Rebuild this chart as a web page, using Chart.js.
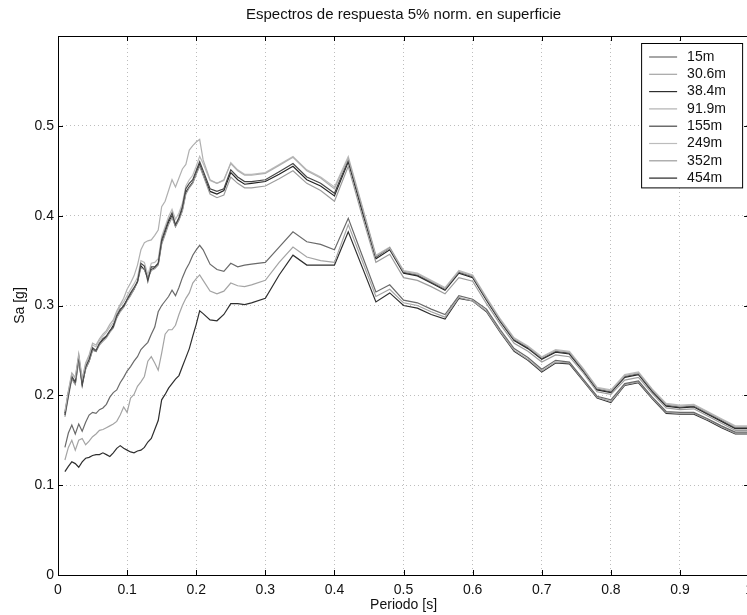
<!DOCTYPE html>
<html lang="es">
<head>
<meta charset="utf-8">
<title>Espectros de respuesta</title>
<script src="https://cdn.jsdelivr.net/npm/chart.js@4.4.1/dist/chart.umd.min.js"></script>
<style>
  html, body { margin: 0; padding: 0; background: #fff; overflow: hidden; }
  #wrap { position: relative; width: 760px; height: 615px; }
</style>
</head>
<body>
<div id="wrap"><canvas id="espectros"></canvas></div>
<script>
// Periodos [s]
const periods = [
  0.010,0.015,0.020,0.025,0.030,0.035,0.040,0.045,0.050,0.055,
  0.060,0.065,0.070,0.075,0.080,0.085,0.090,0.095,0.100,0.105,
  0.110,0.115,0.120,0.125,0.130,0.135,0.140,0.145,0.150,0.155,
  0.160,0.165,0.170,0.175,0.180,0.185,0.190,0.195,0.200,0.205,
  0.210,0.220,0.230,0.240,0.250,0.260,0.270,0.280,0.300,0.320,
  0.340,0.360,0.380,0.400,0.420,0.440,0.460,0.480,0.500,0.520,
  0.540,0.560,0.580,0.600,0.620,0.640,0.660,0.680,0.700,0.720,
  0.740,0.760,0.780,0.800,0.820,0.840,0.860,0.880,0.900,0.920,
  0.940,0.960,0.980,1.000
];

// Sa [g] para cada profundidad
const sa15 = [
  0.142,0.158,0.167,0.157,0.168,0.160,0.170,0.178,0.181,0.180,
  0.184,0.186,0.190,0.198,0.203,0.206,0.214,0.220,0.227,0.232,
  0.238,0.243,0.251,0.255,0.259,0.268,0.276,0.293,0.300,0.305,
  0.310,0.317,0.311,0.320,0.331,0.340,0.347,0.356,0.362,0.367,
  0.362,0.346,0.340,0.338,0.347,0.343,0.345,0.346,0.348,0.365,
  0.382,0.371,0.368,0.362,0.397,0.356,0.315,0.323,0.306,0.303,
  0.296,0.290,0.311,0.307,0.296,0.273,0.252,0.242,0.229,0.239,
  0.237,0.218,0.199,0.195,0.213,0.216,0.198,0.182,0.181,0.181,
  0.174,0.166,0.159,0.159
];
const sa30_6 = [
  0.128,0.142,0.150,0.139,0.150,0.152,0.145,0.149,0.154,0.157,
  0.161,0.162,0.164,0.166,0.168,0.171,0.178,0.187,0.181,0.197,
  0.201,0.210,0.215,0.221,0.238,0.243,0.236,0.228,0.247,0.268,
  0.273,0.273,0.278,0.290,0.300,0.308,0.314,0.325,0.330,0.334,
  0.328,0.316,0.313,0.316,0.325,0.322,0.321,0.323,0.328,0.348,
  0.365,0.354,0.350,0.348,0.390,0.350,0.310,0.318,0.303,0.300,
  0.293,0.287,0.309,0.305,0.294,0.271,0.250,0.240,0.227,0.237,
  0.236,0.217,0.198,0.193,0.212,0.215,0.197,0.181,0.180,0.180,
  0.173,0.165,0.158,0.158
];
const sa38_4 = [
  0.115,0.121,0.126,0.124,0.120,0.126,0.130,0.131,0.133,0.134,
  0.134,0.136,0.134,0.132,0.136,0.141,0.144,0.141,0.139,0.137,
  0.136,0.138,0.139,0.142,0.148,0.152,0.162,0.172,0.195,0.201,
  0.208,0.213,0.218,0.222,0.232,0.242,0.252,0.266,0.279,0.294,
  0.291,0.284,0.283,0.290,0.302,0.302,0.301,0.303,0.308,0.334,
  0.356,0.345,0.345,0.345,0.382,0.343,0.304,0.314,0.300,0.297,
  0.290,0.285,0.308,0.305,0.293,0.270,0.249,0.239,0.226,0.236,
  0.235,0.216,0.197,0.192,0.211,0.214,0.196,0.180,0.179,0.179,
  0.172,0.164,0.157,0.157
];
const sa91_9 = [
  0.182,0.205,0.225,0.220,0.246,0.219,0.236,0.245,0.258,0.256,
  0.263,0.268,0.272,0.279,0.284,0.294,0.301,0.308,0.318,0.325,
  0.333,0.345,0.362,0.370,0.372,0.373,0.378,0.384,0.410,0.416,
  0.428,0.440,0.432,0.442,0.452,0.457,0.473,0.478,0.482,0.485,
  0.462,0.440,0.436,0.440,0.458,0.450,0.445,0.445,0.447,0.456,
  0.465,0.450,0.442,0.430,0.464,0.410,0.355,0.364,0.338,0.335,
  0.327,0.319,0.338,0.333,0.308,0.284,0.263,0.254,0.242,0.250,
  0.248,0.229,0.208,0.205,0.222,0.225,0.206,0.190,0.188,0.189,
  0.181,0.173,0.165,0.165
];
const sa155 = [
  0.178,0.200,0.221,0.215,0.243,0.213,0.232,0.240,0.253,0.250,
  0.258,0.263,0.266,0.272,0.276,0.289,0.296,0.299,0.307,0.314,
  0.320,0.326,0.347,0.344,0.327,0.343,0.343,0.347,0.373,0.384,
  0.395,0.403,0.390,0.398,0.410,0.430,0.436,0.440,0.450,0.460,
  0.450,0.430,0.427,0.430,0.451,0.443,0.438,0.438,0.440,0.449,
  0.458,0.443,0.436,0.425,0.462,0.408,0.354,0.364,0.337,0.334,
  0.326,0.318,0.337,0.332,0.307,0.283,0.262,0.253,0.241,0.249,
  0.247,0.228,0.207,0.204,0.221,0.224,0.205,0.189,0.187,0.188,
  0.180,0.172,0.164,0.164
];
const sa249 = [
  0.181,0.204,0.224,0.219,0.245,0.217,0.235,0.243,0.256,0.254,
  0.261,0.266,0.270,0.276,0.281,0.292,0.299,0.304,0.311,0.318,
  0.324,0.331,0.350,0.348,0.334,0.347,0.348,0.352,0.377,0.388,
  0.399,0.407,0.396,0.403,0.414,0.433,0.440,0.445,0.455,0.466,
  0.458,0.439,0.436,0.439,0.459,0.451,0.446,0.446,0.448,0.457,
  0.466,0.451,0.443,0.432,0.466,0.411,0.356,0.365,0.339,0.336,
  0.328,0.320,0.339,0.334,0.309,0.285,0.264,0.255,0.243,0.251,
  0.249,0.230,0.209,0.206,0.223,0.226,0.207,0.191,0.189,0.190,
  0.182,0.174,0.166,0.166
];
const sa352 = [
  0.176,0.198,0.218,0.212,0.238,0.214,0.229,0.238,0.250,0.249,
  0.256,0.260,0.264,0.270,0.275,0.286,0.293,0.298,0.305,0.311,
  0.318,0.326,0.342,0.340,0.330,0.339,0.341,0.345,0.368,0.379,
  0.390,0.398,0.388,0.395,0.405,0.424,0.431,0.436,0.446,0.455,
  0.445,0.424,0.420,0.423,0.443,0.436,0.431,0.431,0.433,0.441,
  0.450,0.436,0.428,0.416,0.455,0.400,0.348,0.357,0.331,0.328,
  0.321,0.313,0.331,0.327,0.302,0.279,0.258,0.249,0.237,0.245,
  0.243,0.225,0.204,0.201,0.217,0.220,0.202,0.186,0.184,0.185,
  0.177,0.169,0.161,0.161
];
const sa454 = [
  0.180,0.203,0.219,0.213,0.240,0.211,0.230,0.238,0.251,0.249,
  0.257,0.262,0.265,0.271,0.278,0.287,0.294,0.300,0.306,0.312,
  0.318,0.327,0.344,0.340,0.331,0.340,0.342,0.346,0.370,0.381,
  0.393,0.400,0.388,0.396,0.407,0.426,0.432,0.437,0.447,0.457,
  0.446,0.427,0.424,0.428,0.448,0.440,0.435,0.436,0.438,0.446,
  0.455,0.440,0.433,0.422,0.460,0.405,0.352,0.362,0.336,0.333,
  0.325,0.317,0.336,0.331,0.306,0.282,0.261,0.252,0.240,0.248,
  0.246,0.227,0.206,0.203,0.220,0.223,0.204,0.188,0.186,0.187,
  0.179,0.171,0.163,0.163
];

const depthLabels = ['15m', '30.6m', '38.4m', '91.9m', '155m', '249m', '352m', '454m'];
const seriesValues = [sa15, sa30_6, sa38_4, sa91_9, sa155, sa249, sa352, sa454];
const lineColors = ['#6a6a6a', '#a4a4a4', '#2e2e2e', '#b0b0b0', '#474747', '#bcbcbc', '#9c9c9c', '#242424'];

// marcas de los ejes (0.6 queda sin etiqueta, como en la figura original)
const xTicks = [0, 0.1, 0.2, 0.3, 0.4, 0.5, 0.6, 0.7, 0.8, 0.9, 1];
const yTicks = [0, 0.1, 0.2, 0.3, 0.4, 0.5];

const chartTitle = 'Espectros de respuesta 5% norm. en superficie';
const FONT = '"Liberation Sans", Arial, Helvetica, sans-serif';

const datasets = seriesValues.map((vals, i) => ({
    label: depthLabels[i],
    data: periods.map((p, j) => ({ x: p, y: vals[j] })),
    borderColor: lineColors[i],
    backgroundColor: lineColors[i],
    borderWidth: 1.2,
    pointRadius: 0,
    tension: 0,
    fill: false
}));

// Marco, ticks hacia adentro, titulo y leyenda estilo MATLAB
const matlabAxes = {
    id: 'matlabAxes',
    afterDraw(chart) {
        const { ctx, chartArea: a, scales: { x, y } } = chart;
        ctx.save();
        ctx.strokeStyle = '#000';
        ctx.lineWidth = 1;
        ctx.strokeRect(a.left + 0.5, a.top + 0.5, a.right - a.left, a.bottom - a.top);

        ctx.beginPath();
        x.ticks.forEach(t => {
            const px = Math.round(x.getPixelForValue(t.value)) + 0.5;
            ctx.moveTo(px, a.bottom); ctx.lineTo(px, a.bottom - 5);
            ctx.moveTo(px, a.top); ctx.lineTo(px, a.top + 5);
        });
        y.ticks.forEach(t => {
            const py = Math.round(y.getPixelForValue(t.value)) + 0.5;
            ctx.moveTo(a.left, py); ctx.lineTo(a.left + 5, py);
            ctx.moveTo(a.right, py); ctx.lineTo(a.right - 5, py);
        });
        ctx.stroke();

        // titulo centrado sobre el area de la grafica
        ctx.fillStyle = '#111';
        ctx.font = '15px ' + FONT;
        ctx.textAlign = 'center';
        ctx.textBaseline = 'middle';
        ctx.fillText(chartTitle, (a.left + a.right) / 2, 15);

        // leyenda dentro de la grafica, esquina superior derecha
        const boxW = 101, rowH = 17.3;
        const boxH = rowH * depthLabels.length + 6;
        const bx = a.right - 7 - boxW, by = a.top + 7;
        ctx.fillStyle = '#fff';
        ctx.fillRect(bx, by, boxW, boxH);
        ctx.strokeStyle = '#000';
        ctx.strokeRect(bx + 0.5, by + 0.5, boxW, boxH);
        ctx.font = '14px ' + FONT;
        ctx.textAlign = 'left';
        depthLabels.forEach((lab, i) => {
            const ry = by + 14 + i * rowH;
            ctx.strokeStyle = lineColors[i];
            ctx.lineWidth = 1.2;
            ctx.beginPath();
            ctx.moveTo(bx + 8, ry);
            ctx.lineTo(bx + 36, ry);
            ctx.stroke();
            ctx.fillStyle = '#111';
            ctx.fillText(lab, bx + 46, ry);
        });
        ctx.restore();
    }
};

const tickFont = { family: FONT, size: 14 };
const fmt = v => String(Math.round(v * 10) / 10);

new Chart(document.getElementById('espectros'), {
    type: 'line',
    data: { datasets },
    plugins: [matlabAxes],
    options: {
        responsive: true,
        maintainAspectRatio: false,
        animation: false,
        layout: { padding: { top: 36, right: 10, left: 0, bottom: 0 } },
        plugins: {
            legend: { display: false },
            tooltip: { enabled: false }
        },
        scales: {
            x: {
                type: 'linear',
                min: 0,
                max: 1,
                afterBuildTicks: s => { s.ticks = xTicks.map(v => ({ value: v })); },
                ticks: {
                    color: '#111',
                    font: tickFont,
                    padding: 7,
                    maxRotation: 0,
                    autoSkip: false,
                    callback: fmt
                },
                grid: { color: '#bdbdbd', lineWidth: 1, drawTicks: false },
                border: { display: false, dash: [1, 3] },
                title: {
                    display: true,
                    text: 'Periodo [s]',
                    color: '#111',
                    font: tickFont,
                    padding: { top: 0, bottom: 1 }
                },
                afterFit: s => { s.height = 40; }
            },
            y: {
                min: 0,
                max: 0.6,
                afterBuildTicks: s => { s.ticks = yTicks.map(v => ({ value: v })); },
                ticks: {
                    color: '#111',
                    font: tickFont,
                    padding: 4,
                    autoSkip: false,
                    callback: fmt
                },
                grid: { color: '#bdbdbd', lineWidth: 1, drawTicks: false },
                border: { display: false, dash: [1, 3] },
                title: {
                    display: true,
                    text: 'Sa [g]',
                    color: '#111',
                    font: tickFont,
                    padding: { top: 12, bottom: 0 }
                },
                afterFit: s => { s.width = 58; }
            }
        }
    }
});
</script>
</body>
</html>
